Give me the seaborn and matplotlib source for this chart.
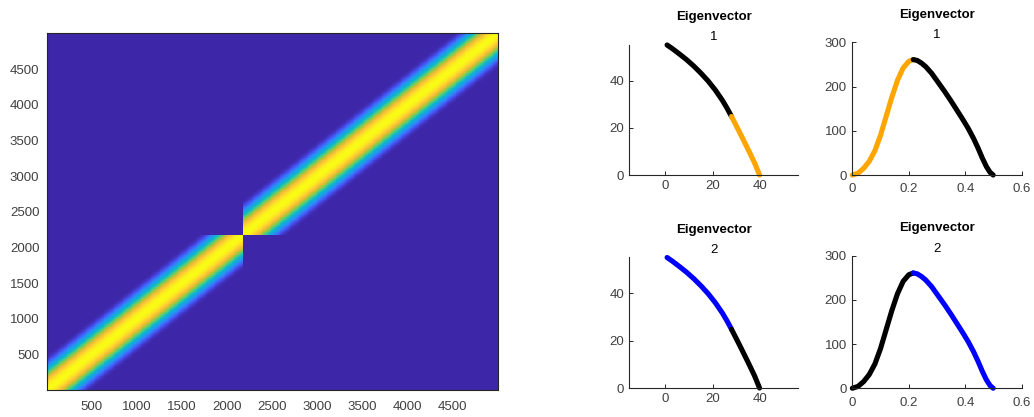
import numpy as np
import matplotlib
matplotlib.use("Agg")
import matplotlib.pyplot as plt
from matplotlib.colors import LinearSegmentedColormap
import seaborn as sns

# ---------------- data ----------------
# kernel matrix (left panel): two diagonal blocks with a smooth band
matrix_size = 5000
block_split = 2180
kernel_halfwidth = 500
grid_step = 10
heat_ticks = [500, 1000, 1500, 2000, 2500, 3000, 3500, 4000, 4500]

# eigenvector curve (left column of small panels)
curve_x = [0.7, 3, 6, 9, 12, 15, 18, 21, 24, 26, 27.8, 30, 32.5, 35, 37.5, 39.6]
curve_y = [55.1, 53.5, 51.2, 48.8, 46.1, 43.1, 39.8, 36.0, 31.6, 28.2, 24.8,
           20.5, 15.5, 10.4, 5.15, 0.0]
curve_split = 10

# eigenvector profile (right column of small panels)
profile_x = [0.0, 0.02, 0.04, 0.06, 0.08, 0.10, 0.12, 0.14, 0.16, 0.18, 0.20, 0.216,
             0.23, 0.245, 0.26, 0.281, 0.30, 0.328, 0.35, 0.374, 0.39, 0.41,
             0.43, 0.446, 0.46, 0.475, 0.488, 0.499]
profile_y = [0, 4, 15, 31, 55, 90, 133, 176, 214, 242, 257, 261,
             259, 253, 245, 230, 213, 188, 167, 143, 127, 106,
             82, 60, 39, 19, 6, 0]
profile_split = 11

panel_numbers = ["1", "2"]
highlight_colors = ["#FFA500", "#0000FF"]

curve_xticks = [0, 20, 40]
curve_yticks = [0, 20, 40]
profile_xticks = [0, 0.2, 0.4, 0.6]
profile_xticklabels = ["0", "0.2", "0.4", "0.6"]
profile_yticks = [0, 100, 200, 300]

# ---------------- style ----------------
sns.set_theme(style="white")
plt.rcParams["font.family"] = ["Liberation Sans", "DejaVu Sans"]

parula = LinearSegmentedColormap.from_list("parula", [
    (0.00, (0.2422, 0.1504, 0.6603)),
    (0.10, (0.2786, 0.3084, 0.9403)),
    (0.20, (0.2000, 0.4940, 0.9900)),
    (0.30, (0.1180, 0.6240, 0.9000)),
    (0.40, (0.0300, 0.7050, 0.8200)),
    (0.50, (0.1900, 0.7760, 0.6250)),
    (0.60, (0.4500, 0.8000, 0.3800)),
    (0.70, (0.7500, 0.7600, 0.1800)),
    (0.80, (0.9700, 0.7400, 0.2300)),
    (0.90, (0.9900, 0.8500, 0.1700)),
    (1.00, (0.9769, 0.9839, 0.0805)),
])

axis_col = "#262626"
label_col = "#404040"
fs = 9.5

fig = plt.figure(figsize=(10.34, 4.17), dpi=100)

# ---------------- heatmap ----------------
centers = np.arange(grid_step / 2, matrix_size, grid_step)
I, J = np.meshgrid(centers, centers, indexing="ij")
dist = np.abs(I - J)
same_block = (I < block_split) == (J < block_split)
M = np.where((dist < kernel_halfwidth) & same_block,
             np.cos(np.pi * dist / (2 * kernel_halfwidth)) ** 2, 0.0)

axh = fig.add_axes([0.0452, 0.0647, 0.4364, 0.855])
sns.heatmap(M, cmap=parula, vmin=0, vmax=1, cbar=False, ax=axh,
            xticklabels=False, yticklabels=False, rasterized=True)
n = M.shape[0]
axh.set_xlim(0, n)
axh.set_ylim(0, n)
axh.set_xticks([t / grid_step for t in heat_ticks])
axh.set_xticklabels([str(t) for t in heat_ticks])
axh.set_yticks([t / grid_step for t in heat_ticks])
axh.set_yticklabels([str(t) for t in heat_ticks], rotation=0)
for sp in axh.spines.values():
    sp.set_visible(True)
    sp.set_color(axis_col)
    sp.set_linewidth(0.8)
axh.tick_params(direction="in", length=4, width=0.7, color=axis_col,
                top=True, right=True, bottom=True, left=True,
                labelsize=fs, labelcolor=label_col)
axh.tick_params(axis="x", pad=8)
axh.tick_params(axis="y", pad=5.3)

# ---------------- small panels ----------------
positions = {
    (0, 0): [0.6086, 0.5803, 0.1632, 0.3129],
    (0, 1): [0.8243, 0.5803, 0.1638, 0.3182],
    (1, 0): [0.6086, 0.0695, 0.1632, 0.3141],
    (1, 1): [0.8243, 0.0690, 0.1638, 0.3177],
}
lw = 3.7

def style_small(ax, num):
    sns.despine(ax=ax)
    for side in ("left", "bottom"):
        ax.spines[side].set_color(axis_col)
        ax.spines[side].set_linewidth(0.8)
    ax.tick_params(direction="in", length=3, width=0.7, color=axis_col,
                   labelsize=fs, labelcolor=label_col, bottom=True, left=True)
    ax.set_xlabel("")
    ax.set_ylabel("")
    ax.annotate("Eigenvector", xy=(0.5, 1), xycoords="axes fraction",
                xytext=(0, 17.5), textcoords="offset points",
                ha="center", va="baseline", fontsize=fs, fontweight="bold",
                color="black")
    ax.annotate(num, xy=(0.5, 1), xycoords="axes fraction",
                xytext=(0, 3), textcoords="offset points",
                ha="center", va="baseline", fontsize=fs, color="black")

for r in range(2):
    hc = highlight_colors[r]
    # left column: curve
    ax = fig.add_axes(positions[(r, 0)])
    first_col, second_col = ("black", hc) if r == 0 else (hc, "black")
    sns.lineplot(x=curve_x[:curve_split + 1], y=curve_y[:curve_split + 1],
                 sort=False, estimator=None, color=first_col, lw=lw,
                 solid_capstyle="round", solid_joinstyle="round", ax=ax)
    sns.lineplot(x=curve_x[curve_split:], y=curve_y[curve_split:],
                 sort=False, estimator=None, color=second_col, lw=lw,
                 solid_capstyle="round", solid_joinstyle="round", ax=ax)
    ax.set_xlim(-15.2, 55.8)
    ax.set_ylim(0, 55.3)
    ax.set_xticks(curve_xticks)
    ax.set_yticks(curve_yticks)
    style_small(ax, panel_numbers[r])
    ax.tick_params(axis="x", pad=3.7)
    ax.tick_params(axis="y", pad=3.6)
    for l in ax.lines:
        l.set_clip_on(False)

    # right column: profile
    ax = fig.add_axes(positions[(r, 1)])
    first_col, second_col = (hc, "black") if r == 0 else ("black", hc)
    sns.lineplot(x=profile_x[:profile_split + 1], y=profile_y[:profile_split + 1],
                 sort=False, estimator=None, color=first_col, lw=lw,
                 solid_capstyle="round", solid_joinstyle="round", ax=ax)
    sns.lineplot(x=profile_x[profile_split:], y=profile_y[profile_split:],
                 sort=False, estimator=None, color=second_col, lw=lw,
                 solid_capstyle="round", solid_joinstyle="round", ax=ax)
    ax.set_xlim(0, 0.6)
    ax.set_ylim(0, 300)
    ax.set_xticks(profile_xticks)
    ax.set_xticklabels(profile_xticklabels)
    ax.set_yticks(profile_yticks)
    style_small(ax, panel_numbers[r])
    ax.tick_params(axis="x", pad=6.0)
    ax.tick_params(axis="y", pad=4.0)
    for l in ax.lines:
        l.set_clip_on(False)

fig.savefig("out.png", dpi=100)
